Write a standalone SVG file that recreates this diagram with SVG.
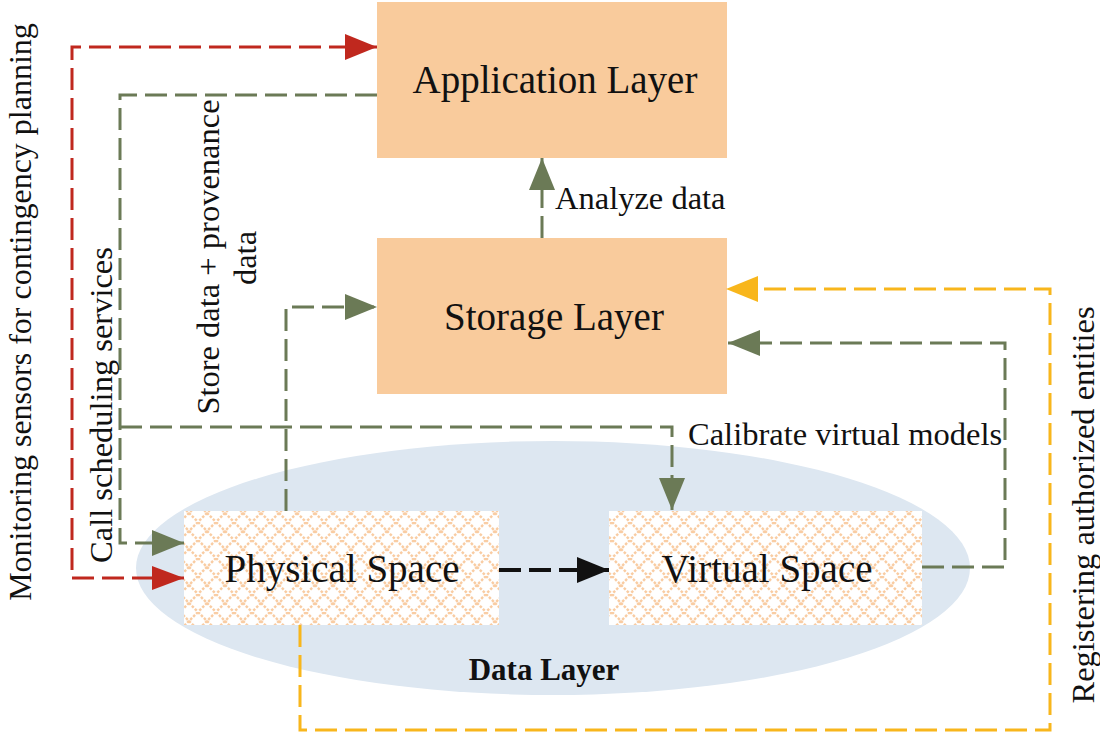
<svg xmlns="http://www.w3.org/2000/svg" width="1100" height="734" viewBox="0 0 1100 734">
<style>
.box{fill:#f9cb9c;}
.t{font-family:"Liberation Serif","Times New Roman",serif;fill:#111;}
.big{font-size:39px;}
.lab{font-size:32.5px;}
.c{fill:none;stroke-width:3;stroke-dasharray:22 8;}
.red{stroke:#c0281e;}
.grn{stroke:#6b7a56;}
.yel{stroke:#f8b61c;}
.blk{stroke:#111;stroke-width:4;}
</style>
<defs>
<pattern id="lat" width="18" height="18" patternUnits="userSpaceOnUse">
<rect width="18" height="18" fill="#fff"/>
<path d="M0,0 L18,18 M18,0 L0,18" stroke="#f9cca2" stroke-width="2.4" stroke-dasharray="2.6 1.6"/>
</pattern>
<marker id="aR" markerWidth="34" markerHeight="26" refX="32" refY="13" orient="auto" markerUnits="userSpaceOnUse"><path d="M0,0 L32,13 L0,26 Z" fill="#c0281e"/></marker>
<marker id="aG" markerWidth="34" markerHeight="26" refX="32" refY="13" orient="auto" markerUnits="userSpaceOnUse"><path d="M0,0 L32,13 L0,26 Z" fill="#6b7a56"/></marker>
<marker id="aY" markerWidth="34" markerHeight="26" refX="32" refY="13" orient="auto" markerUnits="userSpaceOnUse"><path d="M0,0 L32,13 L0,26 Z" fill="#f8b61c"/></marker>
<marker id="aK" markerWidth="34" markerHeight="26" refX="32" refY="13" orient="auto" markerUnits="userSpaceOnUse"><path d="M0,0 L32,13 L0,26 Z" fill="#111"/></marker>
</defs>
<rect width="1100" height="734" fill="#fff"/>

<g id="data-layer">
<ellipse cx="553" cy="568" rx="417" ry="127" fill="#dde7f1"/>
<text class="t" x="544" y="680" font-size="31" font-weight="bold" text-anchor="middle">Data Layer</text>
</g>

<g id="application-layer">
<rect class="box" x="377" y="2" width="350" height="156"/>
<text class="t big" x="555" y="93" text-anchor="middle">Application Layer</text>
</g>

<g id="storage-layer">
<rect class="box" x="377" y="238" width="350" height="156"/>
<text class="t big" x="554" y="330" text-anchor="middle">Storage Layer</text>
</g>

<g id="physical-space">
<rect x="184" y="511" width="315" height="114" fill="url(#lat)"/>
<text class="t big" x="342" y="582" text-anchor="middle">Physical Space</text>
</g>

<g id="virtual-space">
<rect x="609" y="511" width="313" height="114" fill="url(#lat)"/>
<text class="t big" x="767" y="582" text-anchor="middle">Virtual Space</text>
</g>

<g id="connectors">
<path class="c red" d="M184,578 L72,578 L72,47 L377,47" marker-end="url(#aR)"/>
<path d="M152,566 L184,578 L152,590 Z" fill="#c0281e"/>
<path class="c grn" d="M377,95 L120,95 L120,543 L184,543" marker-end="url(#aG)"/>
<path class="c grn" d="M120,427 L672,427 L672,510" marker-end="url(#aG)"/>
<path class="c grn" d="M286,511 L286,307 L377,307" marker-end="url(#aG)"/>
<path class="c grn" d="M542,238 L542,158" marker-end="url(#aG)"/>
<path class="c grn" d="M922,567 L1005,567 L1005,343 L728,343" marker-end="url(#aG)"/>
<path class="c yel" d="M300,625 L300,730 L1050,730 L1050,289 L726,289" marker-end="url(#aY)"/>
<path class="c blk" d="M499,570 L609,570" stroke-dasharray="20 19" marker-end="url(#aK)"/>
</g>

<g id="labels">
<text class="t" font-size="32" text-anchor="middle" transform="translate(31,312) rotate(-90)">Monitoring sensors for contingency planning</text>
<text class="t lab" text-anchor="middle" transform="translate(112,405) rotate(-90)">Call scheduling services</text>
<text class="t lab" text-anchor="middle" transform="translate(219,257) rotate(-90)">Store data + provenance</text>
<text class="t lab" text-anchor="middle" transform="translate(256,258) rotate(-90)">data</text>
<text class="t lab" x="555" y="209">Analyze data</text>
<text class="t lab" x="688" y="445">Calibrate virtual models</text>
<text class="t lab" text-anchor="middle" transform="translate(1094,505) rotate(-90)">Registering authorized entities</text>
</g>
</svg>
